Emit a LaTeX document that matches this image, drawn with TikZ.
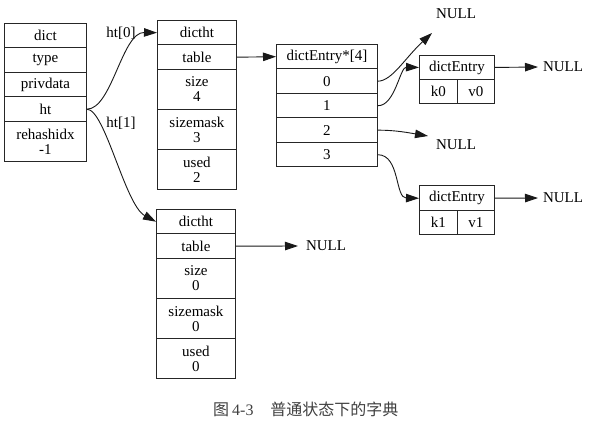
\documentclass[tikz,border=0pt]{standalone}
\usepackage{fontspec}
\setmainfont{Liberation Serif}
\newfontfamily\cjk{Noto Sans CJK SC}
\usetikzlibrary{arrows.meta}
\tikzset{
  cell/.style={draw=black!85, line width=0.9pt, inner sep=0pt, anchor=north west,
    font=\fontsize{15}{15}\selectfont, align=center},
  lbl/.style={inner sep=0pt, font=\fontsize{15}{15}\selectfont},
  conn/.style={line width=0.9pt, draw=black!90, -{Triangle[length=13pt,width=8.5pt]}},
}
\begin{document}
\begin{tikzpicture}[x=1pt,y=-1pt]
\useasboundingbox[fill=white] (0,0) rectangle (592,422);
% dict
\node[cell, minimum width=82pt, minimum height=24.5pt] (d0) at (4,23) {dict};
\node[cell, minimum width=82pt, minimum height=24.5pt] (d1) at (4,47.5) {type};
\node[cell, minimum width=82pt, minimum height=24.5pt] (d2) at (4,72) {privdata};
\node[cell, minimum width=82pt, minimum height=24.5pt] (d3) at (4,96.5) {ht};
\node[cell, minimum width=82pt, minimum height=40pt] (d4) at (4,121) {rehashidx\\-1};
% dictht 0
\node[cell, minimum width=79pt, minimum height=24.5pt] (a0) at (157,20) {dictht};
\node[cell, minimum width=79pt, minimum height=24.5pt] (a1) at (157,44.5) {table};
\node[cell, minimum width=79pt, minimum height=40pt] (a2) at (157,69) {size\\4};
\node[cell, minimum width=79pt, minimum height=40pt] (a3) at (157,109) {sizemask\\3};
\node[cell, minimum width=79pt, minimum height=40pt] (a4) at (157,149) {used\\2};
% dictht 1
\node[cell, minimum width=79pt, minimum height=24.5pt] (b0) at (156,209) {dictht};
\node[cell, minimum width=79pt, minimum height=24.5pt] (b1) at (156,233.5) {table};
\node[cell, minimum width=79pt, minimum height=40pt] (b2) at (156,258) {size\\0};
\node[cell, minimum width=79pt, minimum height=40pt] (b3) at (156,298) {sizemask\\0};
\node[cell, minimum width=79pt, minimum height=40pt] (b4) at (156,338) {used\\0};
% table array
\node[cell, minimum width=101pt, minimum height=24.5pt] (t) at (276,44) {dictEntry*[4]};
\node[cell, minimum width=101pt, minimum height=24.5pt] (r0) at (276,68.5) {0};
\node[cell, minimum width=101pt, minimum height=24.5pt] (r1) at (276,93) {1};
\node[cell, minimum width=101pt, minimum height=24.5pt] (r2) at (276,117.5) {2};
\node[cell, minimum width=101pt, minimum height=24.5pt] (r3) at (276,142) {3};
% dictEntry 0
\node[cell, minimum width=75pt, minimum height=24pt] (e0) at (419,55) {dictEntry};
\node[cell, minimum width=38pt, minimum height=24pt] (k0) at (419,79) {k0};
\node[cell, minimum width=37pt, minimum height=24pt] (v0) at (457,79) {v0};
% dictEntry 1
\node[cell, minimum width=75pt, minimum height=24.5pt] (e1) at (419,185.5) {dictEntry};
\node[cell, minimum width=38pt, minimum height=24pt] (k1) at (419,210) {k1};
\node[cell, minimum width=37pt, minimum height=24pt] (v1) at (457,210) {v1};
% NULL labels
\node[lbl] (nA) at (456,14) {NULL};
\node[lbl] (nB) at (456,145) {NULL};
\node[lbl] (nC) at (563,67) {NULL};
\node[lbl] (nD) at (563,198) {NULL};
\node[lbl] (nE) at (326,246) {NULL};
\coordinate (tA) at (432,33);
\coordinate (tB) at (428,136);
\coordinate (tC) at (538,67);
\coordinate (tD) at (538,198);
\coordinate (tE) at (298,246);
% edge labels
\node[lbl] (l0) at (121,33) {ht[0]};
\node[lbl] (l1) at (121,123) {ht[1]};
% connectors
\draw[conn] (d3.east) .. controls (112,109) and (122,32) .. (a0.west);
\draw[conn] (d3.east) .. controls (105,109) and (125,205) .. (b0.west);
\draw[conn] (a1.east) -- (t.west);
\draw[conn] (b1.east) -- (tE);
\draw[conn] (r0.east) .. controls (392,81) and (405,58) .. (tA);
\draw[conn] (r1.east) .. controls (395,106) and (400,67) .. (e0.west);
\draw[conn] (r2.east) .. controls (395,130) and (410,133) .. (tB);
\draw[conn] (r3.east) .. controls (400,155) and (395,198) .. (e1.west);
\draw[conn] (e0.east) -- (tC);
\draw[conn] (e1.east) -- (tD);
% caption
\node[inner sep=0pt, text=black!75, font=\fontsize{16}{16}\selectfont, anchor=west] (cap) at (213,409)
  {{\cjk 图}\kern3pt 4-3\hspace{1.05em}{\cjk 普通状态下的字典}};
\end{tikzpicture}
\end{document}
